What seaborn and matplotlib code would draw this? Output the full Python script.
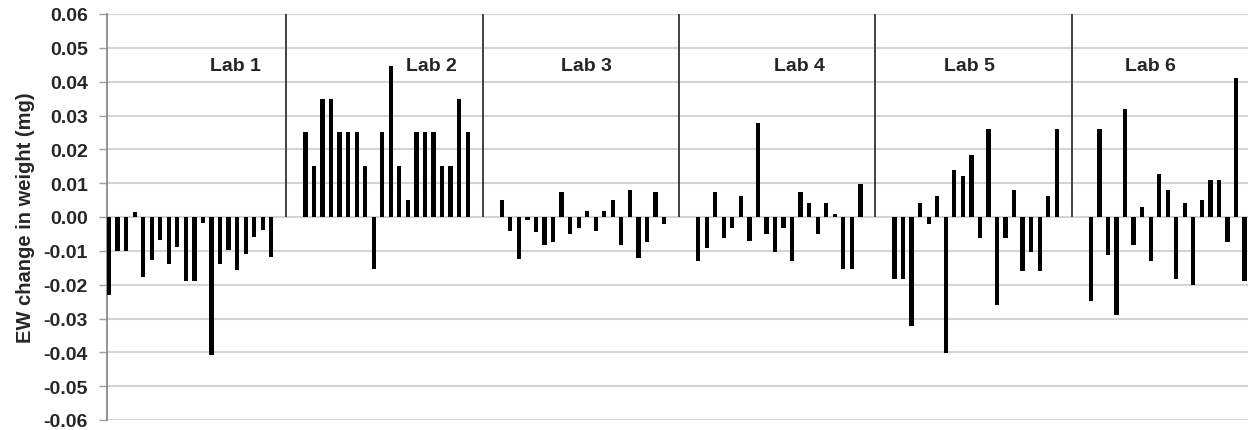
import matplotlib
matplotlib.use("Agg")
import matplotlib.pyplot as plt
import matplotlib.ticker as mticker
import numpy as np
import pandas as pd
import seaborn as sns

# ---- data ----
lab_names = ["Lab 1", "Lab 2", "Lab 3", "Lab 4", "Lab 5", "Lab 6"]
lab1 = [-0.023, -0.010, -0.010, 0.0015, -0.0177, -0.0128, -0.0067, -0.0138, -0.009, -0.019,
        -0.019, -0.0018, -0.0407, -0.0138, -0.0098, -0.0158, -0.0108, -0.006, -0.0037, -0.0118]
lab2 = [0.025, 0.015, 0.035, 0.035, 0.025, 0.025, 0.025, 0.015, -0.0153, 0.025,
        0.0447, 0.015, 0.0049, 0.025, 0.025, 0.025, 0.015, 0.015, 0.035, 0.025]
lab3 = [0.0049, -0.0042, -0.0123, -0.001, -0.0044, -0.0082, -0.0074, 0.0073, -0.005, -0.0032,
        0.0019, -0.0042, 0.0019, 0.0049, -0.0082, 0.0079, -0.0121, -0.0074, 0.0073, -0.0021]
lab4 = [-0.0131, -0.0091, 0.0073, -0.0062, -0.0032, 0.0061, -0.0072, 0.0279, -0.005, -0.0103,
        -0.0032, -0.0131, 0.0073, 0.0041, -0.005, 0.0041, 0.001, -0.0153, -0.0153, 0.0098]
lab5 = [-0.0182, -0.0182, -0.0323, 0.0041, -0.0021, 0.0061, -0.0401, 0.014, 0.0122, 0.0182,
        -0.0062, 0.026, -0.026, -0.0062, 0.0079, -0.016, -0.0103, -0.016, 0.0061, 0.026]
lab6 = [-0.0249, 0.026, -0.0111, -0.0291, 0.0319, -0.0082, 0.003, -0.0129, 0.0128, 0.0079,
        -0.0182, 0.0041, -0.0202, 0.0049, 0.011, 0.011, -0.0074, 0.041, -0.019]
labs = [lab1, lab2, lab3, lab4, lab5, lab6]
y_ticks = [-0.06, -0.05, -0.04, -0.03, -0.02, -0.01, 0.00, 0.01, 0.02, 0.03, 0.04, 0.05, 0.06]
y_label = "EW change in weight (mg)"

# ---- layout constants ----
SLOTS_PER_LAB = 23
label_offsets = [14.75, 14.7, 9.9, 11.9, 8.8, 7.0]
label_y = 0.0448

rows = []
for k, vals in enumerate(labs):
    for j, v in enumerate(vals):
        rows.append({"pos": SLOTS_PER_LAB * k + j, "value": v, "lab": lab_names[k]})
df = pd.DataFrame(rows)

sns.set_style("white")
plt.rcParams["font.family"] = ["Liberation Sans", "DejaVu Sans"]
plt.rcParams["axes.unicode_minus"] = False

fig = plt.figure(figsize=(12.48, 4.31), dpi=100)
ax = fig.add_axes([106.5 / 1248, 1 - 421 / 431, 1 - 106.5 / 1248, (421 - 15) / 431])

sns.barplot(data=df, x="pos", y="value", native_scale=True, width=0.5,
            color="black", saturation=1, edgecolor="none", linewidth=0, ax=ax, zorder=3)

ax.set_ylim(-0.06, 0.06)
ax.set_xlim(-0.3, 133.4)
ax.set_yticks(y_ticks)
ax.yaxis.set_major_formatter(mticker.FormatStrFormatter("%.2f"))
ax.grid(axis="y", color="#d4d4d4", linewidth=1.5, zorder=0)
ax.set_axisbelow(True)
ax.set_xticks([])
ax.set_xlabel("")
ax.set_ylabel(y_label, fontsize=14.5, fontweight="bold", labelpad=6)
for lbl in ax.get_yticklabels():
    lbl.set_fontweight("bold")
ax.tick_params(axis="y", labelsize=14, length=6, width=1, color="#a0a0a0", left=True, pad=7.5)

for s in ["top", "right", "bottom"]:
    ax.spines[s].set_visible(False)
ax.spines["left"].set_color("#8a8a8a")
ax.spines["left"].set_linewidth(1.3)

# separators between labs
for k in range(1, len(lab_names)):
    ax.vlines(SLOTS_PER_LAB * k - 2.25, 0, 0.06, colors="#333333", linewidth=1.3, zorder=4)

for k, name in enumerate(lab_names):
    ax.text(SLOTS_PER_LAB * k + label_offsets[k], label_y, name, ha="center", va="center",
            fontsize=14, fontweight="bold", zorder=5)

fig.savefig("out.png", dpi=100)
